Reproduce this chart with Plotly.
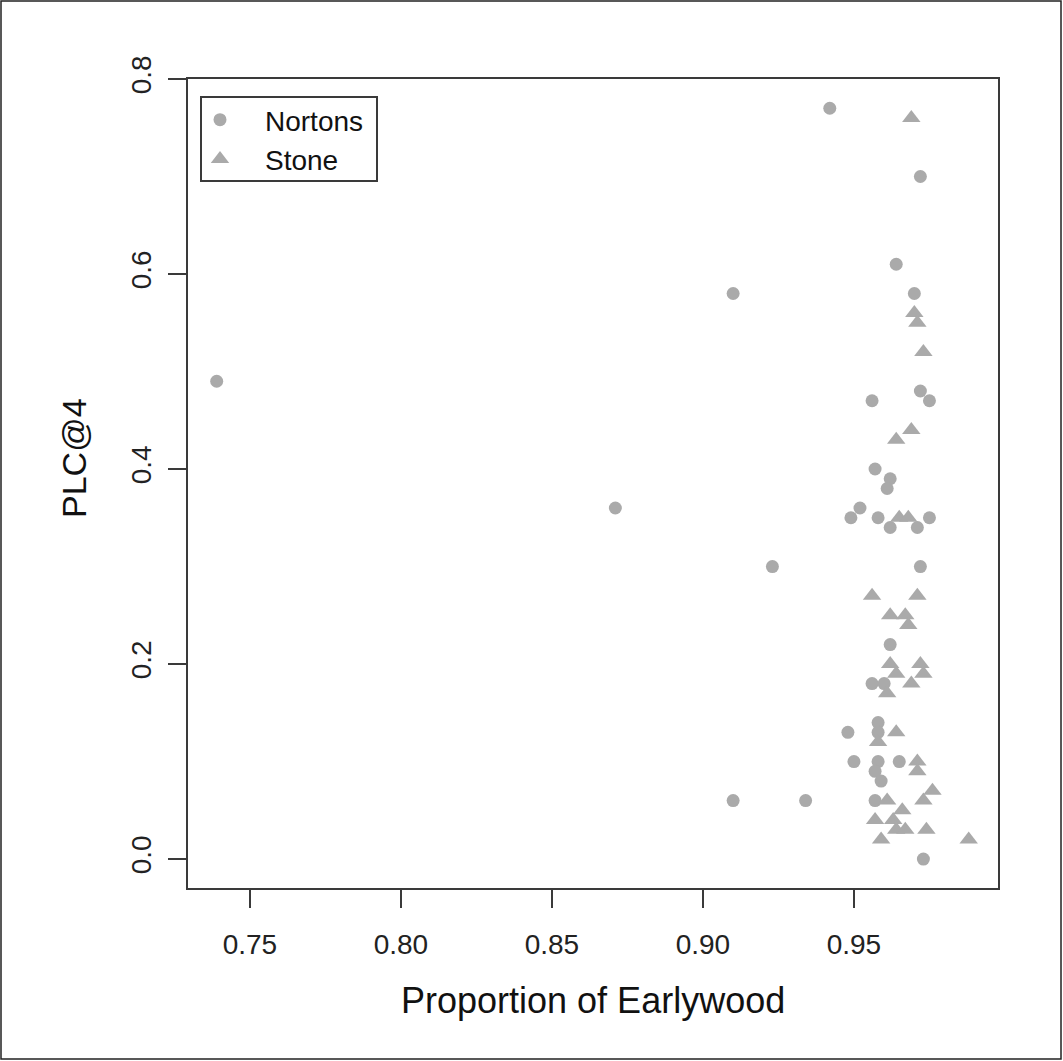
import plotly.graph_objects as go

# ---- data ----
nortons_x = [0.739, 0.871, 0.910, 0.923, 0.910, 0.934, 0.942, 0.972, 0.964, 0.970,
             0.972, 0.975, 0.956, 0.957, 0.962, 0.961, 0.952, 0.949, 0.958, 0.962,
             0.971, 0.975, 0.972, 0.962, 0.956, 0.960, 0.958, 0.958, 0.948, 0.950,
             0.958, 0.965, 0.957, 0.959, 0.957, 0.973]
nortons_y = [0.49, 0.36, 0.58, 0.30, 0.06, 0.06, 0.77, 0.70, 0.61, 0.58,
             0.48, 0.47, 0.47, 0.40, 0.39, 0.38, 0.36, 0.35, 0.35, 0.34,
             0.34, 0.35, 0.30, 0.22, 0.18, 0.18, 0.14, 0.13, 0.13, 0.10,
             0.10, 0.10, 0.09, 0.08, 0.06, 0.00]

stone_x = [0.969, 0.970, 0.971, 0.973, 0.969, 0.964, 0.965, 0.968, 0.956, 0.971,
           0.962, 0.967, 0.968, 0.962, 0.972, 0.964, 0.973, 0.969, 0.961, 0.964,
           0.958, 0.971, 0.971, 0.976, 0.973, 0.961, 0.966, 0.957, 0.963, 0.964,
           0.967, 0.974, 0.959, 0.988]
stone_y = [0.76, 0.56, 0.55, 0.52, 0.44, 0.43, 0.35, 0.35, 0.27, 0.27,
           0.25, 0.25, 0.24, 0.20, 0.20, 0.19, 0.19, 0.18, 0.17, 0.13,
           0.12, 0.10, 0.09, 0.07, 0.06, 0.06, 0.05, 0.04, 0.04, 0.03,
           0.03, 0.03, 0.02, 0.02]

x_ticks = [0.75, 0.80, 0.85, 0.90, 0.95]
x_tick_labels = ["0.75", "0.80", "0.85", "0.90", "0.95"]
y_ticks = [0.0, 0.2, 0.4, 0.6, 0.8]
y_tick_labels = ["0.0", "0.2", "0.4", "0.6", "0.8"]

series_names = ["Nortons", "Stone"]
x_title = "Proportion of Earlywood"
y_title = "PLC@4"

# ---- figure ----
W, H = 1063, 1061
L, R, T, B = 188, 65, 79, 173
FONT = "Liberation Sans, Arial, Helvetica, sans-serif"
GRAY = "#AAAAAA"
AX = "#3a3a3a"

pw, ph = W - L - R, H - T - B


def px_x(px):
    return (px - L) / pw


def px_y(py):
    return (T + ph - py) / ph


fig = go.Figure()
fig.add_trace(go.Scatter(x=nortons_x, y=nortons_y, mode="markers", name=series_names[0],
                         marker=dict(symbol="circle", size=13, color=GRAY)))
fig.add_trace(go.Scatter(x=stone_x, y=stone_y, mode="markers", name=series_names[1],
                         marker=dict(symbol="triangle-up", size=16, color=GRAY)))

axis_common = dict(showgrid=False, zeroline=False, showline=True, mirror=True,
                   linecolor=AX, linewidth=2, ticks="outside", ticklen=18,
                   tickwidth=2, tickcolor=AX,
                   tickfont=dict(family=FONT, size=28, color="#222222"))

fig.update_xaxes(range=[0.7295, 0.9977], tickvals=x_ticks, ticktext=x_tick_labels,
                 ticklabelstandoff=12, **axis_common)
fig.update_yaxes(range=[-0.0297, 0.8], tickvals=y_ticks, ticktext=y_tick_labels,
                 tickangle=-90, ticklabelstandoff=6, **axis_common)

fig.add_annotation(text=x_title, xref="paper", yref="paper",
                   x=px_x(593), y=px_y(1001),
                   showarrow=False, xanchor="center", yanchor="middle",
                   font=dict(family=FONT, size=36, color="#111111"))
fig.add_annotation(text=y_title, xref="paper", yref="paper",
                   x=px_x(74), y=px_y(458), textangle=-90,
                   showarrow=False, xanchor="center", yanchor="middle",
                   font=dict(family=FONT, size=34, color="#111111"))

# legend frame
fig.add_shape(type="rect", xref="paper", yref="paper",
              x0=px_x(201), x1=px_x(377), y0=px_y(181), y1=px_y(97),
              line=dict(color=AX, width=2), fillcolor="white", layer="below")

# outer frame around the image
fig.add_shape(type="rect", xref="paper", yref="paper",
              x0=px_x(1), x1=px_x(W - 2), y0=px_y(H - 2), y1=px_y(1),
              line=dict(color="#222222", width=1.5), layer="below")

fig.update_layout(
    width=W, height=H,
    margin=dict(l=L, r=R, t=T, b=B, pad=0),
    plot_bgcolor="white", paper_bgcolor="white",
    showlegend=True,
    legend=dict(x=px_x(175), y=px_y(95), xanchor="left", yanchor="top",
                borderwidth=0, bgcolor="rgba(0,0,0,0)",
                font=dict(family=FONT, size=28, color="#111111"),
                itemwidth=80, tracegroupgap=0),
)

fig.write_html("out.html")
